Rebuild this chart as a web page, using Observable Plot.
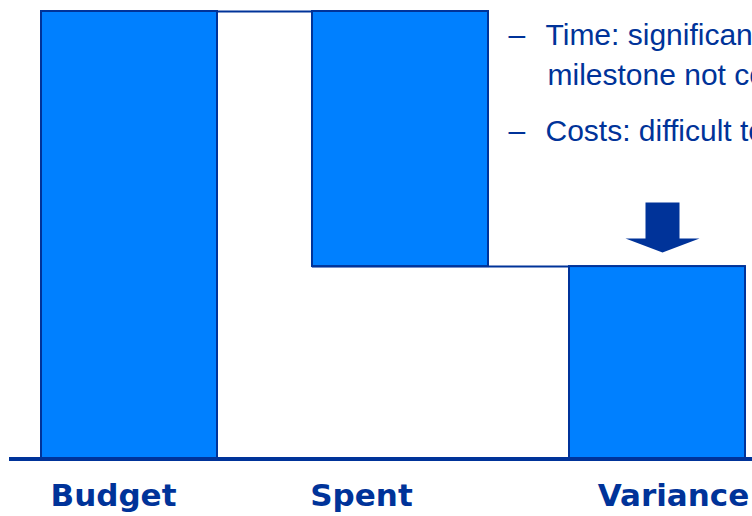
<!DOCTYPE html>
<html>
<head>
<meta charset="utf-8">
<script src="https://cdn.jsdelivr.net/npm/d3@7"></script>
<script src="https://cdn.jsdelivr.net/npm/@observablehq/plot@0.6"></script>
<style>
  html, body { margin: 0; padding: 0; background: #fff; overflow: hidden; }
</style>
</head>
<body>
<div id="chart"></div>
<script>
// Project budget waterfall: budget, amount spent, remaining variance
const categories = ["Budget", "Spent", "Variance"];
const amounts = [100, 57, 43];
const kinds = ["total", "decrease", "total"];

// Status notes shown beside the chart (one array per bullet, one string per line)
const bullets = [
  ["Time: significant slippage,", "milestone not completed"],
  ["Costs: difficult to estimate"]
];

// Colours and type
const barFill = "#0080ff";
const ink = "#003399";
const labelFont = "DejaVu Sans";
const noteFont = "Liberation Sans, Arial, sans-serif";

// Build floating segments for the waterfall
let running = 0;
const steps = categories.map((name, i) => {
  const v = amounts[i];
  let lo, hi, level;
  if (kinds[i] === "total") { lo = 0; hi = v; running = v; level = hi; }
  else { hi = running; lo = running - v; running = lo; level = lo; }
  return {name, lo, hi, level};
});

// Horizontal nudge of each column within its band (slide layout is not evenly spaced)
const barShift = {Budget: 0, Spent: 7, Variance: 0};

// Connector lines from each step's ending level to the next step
const links = steps.slice(0, -1).map((s, i) => ({x1: s.name, x2: steps[i + 1].name, y: s.level}));
const last = steps[steps.length - 1];

// Block arrow pointing down onto the variance bar
const downArrow = {
  draw(context, size) {
    const k = Math.sqrt(size / Math.PI) / 25;
    context.moveTo(-17 * k, -25 * k);
    context.lineTo(17 * k, -25 * k);
    context.lineTo(17 * k, 11 * k);
    context.lineTo(37 * k, 11 * k);
    context.lineTo(0, 25 * k);
    context.lineTo(-37 * k, 11 * k);
    context.lineTo(-17 * k, 11 * k);
    context.closePath();
  }
};

// Category labels sit slightly off-centre under their bars
const labelShift = {Budget: -16, Spent: -32, Variance: 16};

// Note layout: bullet baselines and text indents
const noteLayout = {dashX: 508, textX: 545, wrapX: 547, firstBaseline: 44, lineStep: 40, bulletStep: 56};

const noteMarks = [];
let baseline = noteLayout.firstBaseline;
bullets.forEach((lines) => {
  noteMarks.push(Plot.text(["\u2013"], {
    frameAnchor: "top-left", dx: noteLayout.dashX, dy: baseline,
    textAnchor: "start", lineAnchor: "bottom",
    fontFamily: noteFont, fontSize: 30, fill: ink
  }));
  lines.forEach((line, j) => {
    noteMarks.push(Plot.text([line], {
      frameAnchor: "top-left", dx: j === 0 ? noteLayout.textX : noteLayout.wrapX,
      dy: baseline + j * noteLayout.lineStep,
      textAnchor: "start", lineAnchor: "bottom",
      fontFamily: noteFont, fontSize: 30, fill: ink
    }));
  });
  baseline += (lines.length - 1) * noteLayout.lineStep + noteLayout.bulletStep;
});

const barMarks = steps.map((s) =>
  Plot.barY([s], {x: "name", y1: "lo", y2: "hi", dx: barShift[s.name], fill: barFill, stroke: ink, strokeWidth: 2})
);

const linkMarks = links.map((l) =>
  Plot.ruleY([l], {x1: "x1", x2: "x2", y: "y", insetLeft: barShift[l.x1], insetRight: -barShift[l.x2], stroke: ink, strokeWidth: 2})
);

const labelMarks = categories.map((name) =>
  Plot.text([name], {
    x: (d) => d, y: () => 0, text: (d) => d,
    dx: labelShift[name], dy: 46.5,
    textAnchor: "middle", lineAnchor: "bottom",
    fontFamily: labelFont, fontWeight: "bold", fontSize: 31, fill: ink
  })
);

const chart = Plot.plot({
  width: 752,
  height: 516,
  margin: 0,
  style: {background: "white", overflow: "hidden"},
  x: {type: "band", domain: categories, range: [41, 745], paddingInner: 1 / 3, paddingOuter: 0, axis: null},
  y: {domain: [0, amounts[0]], range: [458.5, 11], axis: null},
  marks: [
    ...linkMarks,
    Plot.ruleY([last], {x1: "name", y: "level", insetLeft: barShift[last.name], stroke: ink, strokeWidth: 2}),
    ...barMarks,
    Plot.ruleY([0], {stroke: ink, strokeWidth: 4, insetLeft: 9}),
    Plot.dot([last], {x: "name", y: "hi", r: 25, symbol: downArrow, fill: ink, stroke: "none", dx: 5, dy: -39}),
    ...labelMarks,
    ...noteMarks
  ]
});

document.getElementById("chart").append(chart);
</script>
</body>
</html>
